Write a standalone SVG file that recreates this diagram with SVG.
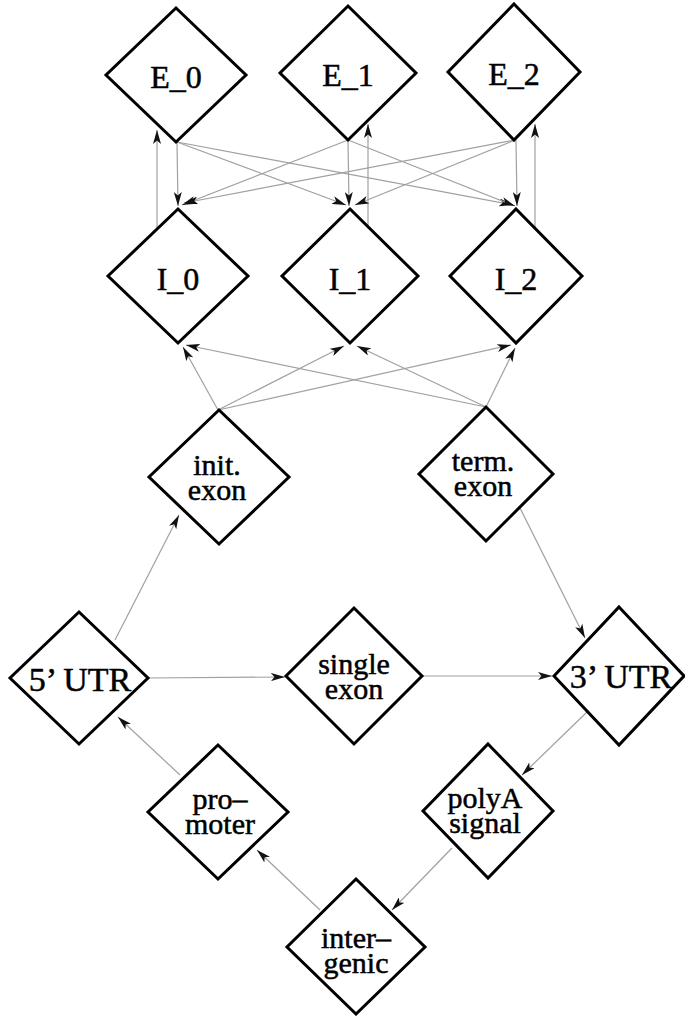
<svg xmlns="http://www.w3.org/2000/svg" width="685" height="1016" viewBox="0 0 685 1016">
<defs>
<marker id="ah" markerWidth="14" markerHeight="8" refX="14" refY="4" orient="auto" markerUnits="userSpaceOnUse">
<path d="M0,0 L14,4 L0,8 L3.5,4 z" fill="#111"/>
</marker>
</defs>
<style>
.nd{fill:#fff;stroke:#000;stroke-width:3;stroke-linejoin:miter}
.lb{font-family:"Liberation Serif","Times New Roman",serif;font-size:32px;fill:#000;stroke:#000;stroke-width:0.5;text-anchor:middle}
.l2{font-size:30px}
.cn line{stroke:#a0a0a0;stroke-width:1.2;marker-end:url(#ah)}
</style>
<rect width="685" height="1016" fill="#fff"/>
<g id="connectors" class="cn">
<line x1="177" y1="142" x2="178" y2="206"/>
<line x1="348" y1="140" x2="349" y2="206"/>
<line x1="516" y1="140" x2="517" y2="206"/>
<line x1="157" y1="228" x2="157" y2="130"/>
<line x1="368" y1="227" x2="368" y2="124"/>
<line x1="535" y1="227" x2="535" y2="124"/>
<line x1="177" y1="142" x2="346" y2="205"/>
<line x1="177" y1="142" x2="513" y2="205"/>
<line x1="348" y1="140" x2="182" y2="205"/>
<line x1="348" y1="140" x2="515" y2="206"/>
<line x1="515" y1="140" x2="184" y2="203"/>
<line x1="515" y1="140" x2="355" y2="205"/>
<line x1="218" y1="410" x2="183" y2="347"/>
<line x1="218" y1="410" x2="344" y2="346"/>
<line x1="218" y1="410" x2="511" y2="345"/>
<line x1="486" y1="407" x2="186" y2="345"/>
<line x1="486" y1="407" x2="357" y2="346"/>
<line x1="486" y1="407" x2="515" y2="348"/>
<line x1="115" y1="640" x2="179" y2="515"/>
<line x1="148" y1="678" x2="285" y2="677"/>
<line x1="422" y1="676" x2="552" y2="676"/>
<line x1="520" y1="508" x2="585" y2="638"/>
<line x1="587" y1="712" x2="522" y2="775"/>
<line x1="452" y1="848" x2="392" y2="910"/>
<line x1="320" y1="910" x2="257" y2="850"/>
<line x1="180" y1="775" x2="118" y2="717"/>
</g>
<g id="E_0"><polygon class="nd" points="176,8 246,75 176,142 106,75"/><text class="lb" x="176" y="88">E_0</text></g>
<g id="E_1"><polygon class="nd" points="348,6 416,73 348,140 280,73"/><text class="lb" x="348" y="86">E_1</text></g>
<g id="E_2"><polygon class="nd" points="514,4 580,72 514,140 448,72"/><text class="lb" x="514" y="85">E_2</text></g>
<g id="I_0"><polygon class="nd" points="178,209 248,276 178,343 108,276"/><text class="lb" x="178" y="290">I_0</text></g>
<g id="I_1"><polygon class="nd" points="350,209 418,276 350,343 282,276"/><text class="lb" x="350" y="290">I_1</text></g>
<g id="I_2"><polygon class="nd" points="516,209 582,276 516,343 450,276"/><text class="lb" x="516" y="290">I_2</text></g>
<g id="init_exon"><polygon class="nd" points="219,410 289,477 219,544 149,477"/><text class="lb l2" x="217" y="475">init.</text><text class="lb l2" x="217" y="500">exon</text></g>
<g id="term_exon"><polygon class="nd" points="486,407 553,474 486,541 419,474"/><text class="lb l2" x="483" y="471">term.</text><text class="lb l2" x="483" y="496">exon</text></g>
<g id="utr5"><polygon class="nd" points="79,612 148,678 79,744 10,678"/><text class="lb" x="80" y="691" style="font-size:34px">5’ UTR</text></g>
<g id="single_exon"><polygon class="nd" points="354,608 422,676 354,744 286,676"/><text class="lb l2" x="354" y="674">single</text><text class="lb l2" x="354" y="699">exon</text></g>
<g id="utr3"><polygon class="nd" points="619,607 684,676 619,745 554,676"/><text class="lb" x="621" y="688" style="font-size:34px">3’ UTR</text></g>
<g id="promoter"><polygon class="nd" points="218,745 288,812 218,879 148,812"/><text class="lb l2" x="220" y="809">pro–</text><text class="lb l2" x="220" y="834">moter</text></g>
<g id="polyA"><polygon class="nd" points="488,744 553,811 488,878 423,811"/><text class="lb l2" x="485" y="808">polyA</text><text class="lb l2" x="485" y="833">signal</text></g>
<g id="intergenic"><polygon class="nd" points="356,879 425,947 356,1014 287,947"/><text class="lb l2" x="356" y="948">inter–</text><text class="lb l2" x="356" y="973">genic</text></g>
</svg>
